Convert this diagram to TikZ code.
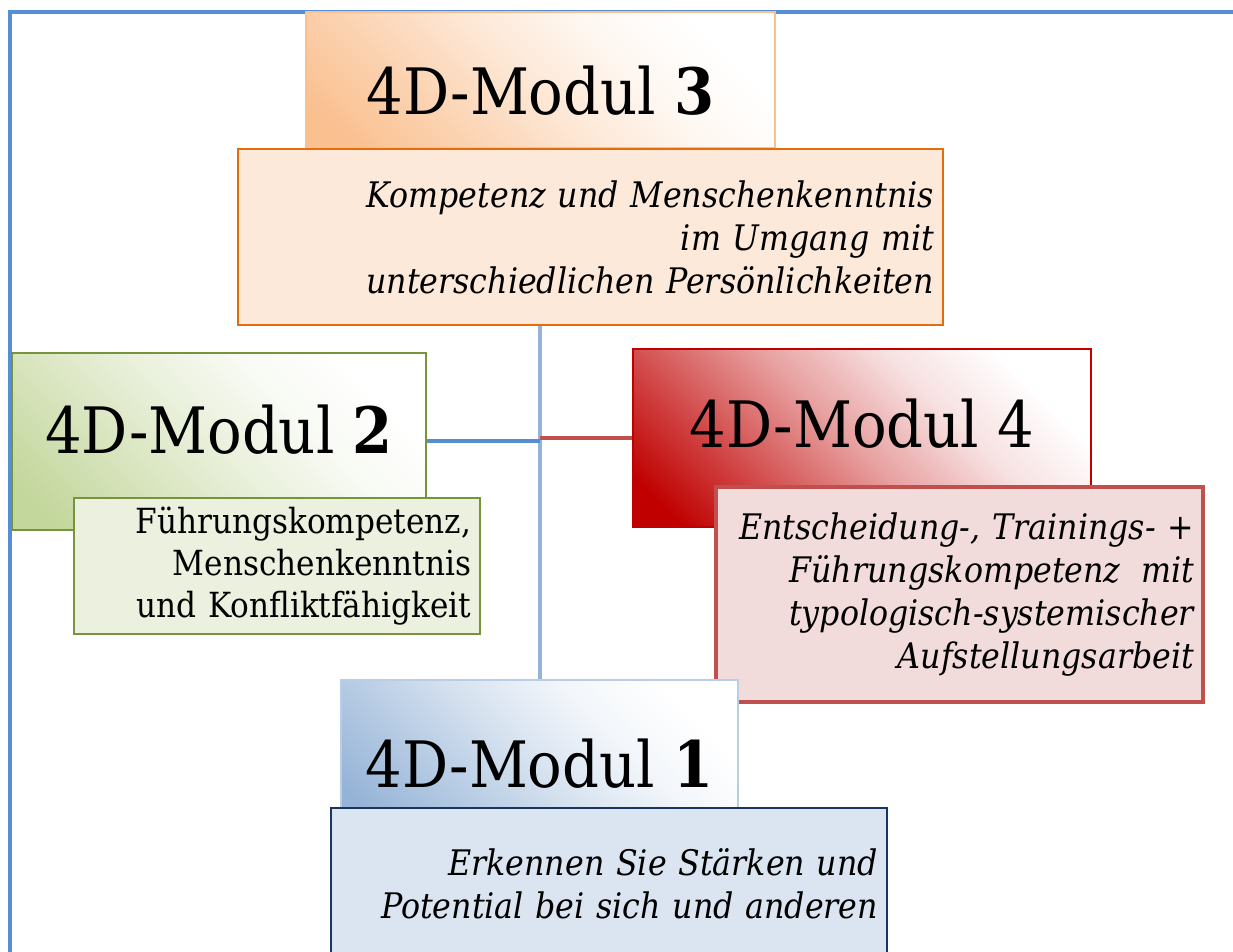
\documentclass[tikz,border=0pt]{standalone}
\usepackage{fontspec}
\setmainfont{DejaVu Serif Condensed}
\usepackage{tikz}
\usetikzlibrary{positioning}
\usepackage{xcolor}
\definecolor{frameblue}{HTML}{558ED5}
\definecolor{orhead}{HTML}{FAC090}
\definecolor{orfill}{HTML}{FDE9D9}
\definecolor{orline}{HTML}{E46C0A}
\definecolor{grhead}{HTML}{C3D69B}
\definecolor{grfill}{HTML}{EBF1DE}
\definecolor{grline}{HTML}{77933C}
\definecolor{rdhead}{HTML}{C00000}
\definecolor{rdfill}{HTML}{F2DCDB}
\definecolor{rdline}{HTML}{C0504D}
\definecolor{blhead}{HTML}{95B3D7}
\definecolor{blfill}{HTML}{DBE5F1}
\definecolor{blline}{HTML}{17375E}
\definecolor{blthin}{HTML}{B9CDE5}
\colorlet{headcol}{white}
\pgfdeclarehorizontalshading[headcol]{headfade}{100bp}{color(0bp)=(headcol); color(20bp)=(headcol); color(33bp)=(headcol!72); color(48bp)=(headcol!38); color(62bp)=(headcol!12); color(75bp)=(white); color(100bp)=(white)}

\begin{document}
\begin{tikzpicture}[x=0.5pt, y=-0.5pt,
  head/.style = {inner sep=0pt, text depth=0pt, /utils/exec={\colorlet{headcol}{#1}}, shade, shading=headfade, shading angle=45, font=\fontsize{32}{38}\selectfont},
  box/.style = {inner xsep=4.5pt, inner ysep=0pt, align=right, font=\fontsize{17.6}{21.5}\selectfont\itshape}]
\useasboundingbox (0,0) rectangle (1233,952);
\clip (0,0) rectangle (1233,952);
\draw[frameblue, line width=2pt] (1250,12) -- (10,12) -- (10,970);

\node[head=orhead, draw=orhead, line width=0.6pt, minimum width=234.5pt, minimum height=68pt, text height=35pt] (h3) at (540.5,80) {4D-Modul \textbf{3}};
\node[box, fill=orfill, draw=orline, line width=1.3pt, text width=343.5pt, minimum height=88pt] (t3) at (590.5,237) {Kompetenz und Menschenkenntnis\\im Umgang mit\\unterschiedlichen Persönlichkeiten};

\node[head=grhead, draw=grline, line width=1.1pt, minimum width=207pt, minimum height=88.5pt, text height=11.5pt] (h2) at (219,441.5) {4D-Modul \textbf{2}};
\node[box, fill=grfill, draw=grline, line width=1.1pt, text width=194pt, minimum height=68pt, font=\fontsize{17.3}{20.8}\selectfont] (t2) at (277,566) {Führungskompetenz,\\Menschenkenntnis\\und Konfliktfähigkeit};

\node[head=rdhead, draw=rdhead, line width=1.1pt, minimum width=229pt, minimum height=89pt, text height=10pt] (h4) at (862,438) {4D-Modul 4};
\node[box, fill=rdfill, draw=rdline, line width=2pt, text width=234.5pt, minimum height=107.5pt] (t4) at (959.5,594.5) {Entscheidung-, Trainings- +\\Führungskompetenz\hspace{0.25em} mit\\typologisch-systemischer\\Aufstellungsarbeit};

\node[head=blhead, draw=blthin, line width=0.6pt, minimum width=198.5pt, minimum height=75pt, text height=32pt] (h1) at (539.5,755) {4D-Modul \textbf{1}};
\node[box, fill=blfill, draw=blline, line width=1.1pt, text width=269pt, minimum height=75.5pt] (t1) at (609,883.5) {Erkennen Sie Stärken und\\Potential bei sich und anderen};

\draw[blhead, line width=2pt] (t3.south -| h1.north) -- (h1.north);
\draw[frameblue, line width=2pt] (h2.east) -- (h2.east -| h1.north);
\draw[rdline, line width=2pt] (h4.west) -- (h4.west -| h1.north);
\end{tikzpicture}
\end{document}
